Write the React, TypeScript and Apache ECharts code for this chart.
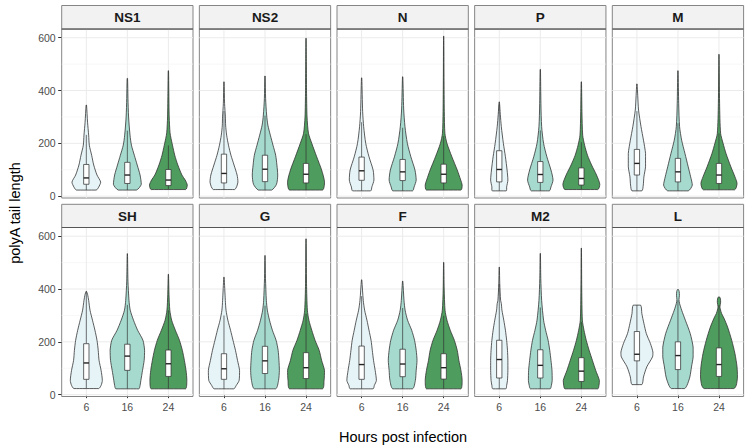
import React, { useEffect, useRef } from "react";
import * as echarts from "echarts";

// ---- data -------------------------------------------------------------
const panels = ["NS1", "NS2", "N", "P", "M", "SH", "G", "F", "M2", "L"];
const hours = ["6", "16", "24"];
const hourFills = ["#e6f4f8", "#a6dace", "#4f9d5e"];
const yTicks = [0, 200, 400, 600];
const yMinorTicks = [100, 300, 500];

// violin profiles: [value, half width in x units], bottom to top
const ns1Violins = [
  [[23, 0.24], [34, 0.3], [53, 0.35], [80, 0.26], [118, 0.18], [155, 0.13], [193, 0.073], [231, 0.057], [280, 0.03], [345, 0.005]],
  [[23, 0.22], [45, 0.34], [80, 0.31], [118, 0.24], [155, 0.17], [193, 0.1], [231, 0.065], [300, 0.03], [370, 0.015], [446, 0.005]],
  [[25, 0.42], [42, 0.46], [61, 0.41], [80, 0.33], [118, 0.23], [155, 0.155], [193, 0.1], [218, 0.065], [240, 0.04], [300, 0.02], [400, 0.01], [475, 0.004]],
];
const ns2Violins = [
  [[25, 0.26], [53, 0.34], [80, 0.32], [118, 0.245], [155, 0.17], [193, 0.11], [231, 0.065], [269, 0.04], [300, 0.035], [350, 0.015], [433, 0.004]],
  [[23, 0.16], [45, 0.28], [80, 0.31], [118, 0.29], [155, 0.26], [193, 0.195], [231, 0.13], [269, 0.07], [307, 0.04], [370, 0.015], [455, 0.004]],
  [[23, 0.4], [54, 0.45], [99, 0.38], [149, 0.26], [200, 0.14], [238, 0.06], [300, 0.025], [400, 0.012], [500, 0.008], [598, 0.003]],
];
const nViolins = [
  [[20, 0.22], [35, 0.25], [61, 0.3], [99, 0.28], [149, 0.18], [200, 0.1], [263, 0.05], [320, 0.025], [448, 0.004]],
  [[20, 0.24], [35, 0.28], [61, 0.33], [99, 0.3], [149, 0.2], [200, 0.115], [263, 0.057], [330, 0.025], [452, 0.004]],
  [[23, 0.42], [42, 0.45], [61, 0.415], [99, 0.33], [149, 0.2], [200, 0.08], [238, 0.03], [320, 0.015], [450, 0.008], [606, 0.003]],
];
const pViolins = [
  [[20, 0.17], [35, 0.18], [61, 0.21], [99, 0.19], [149, 0.15], [200, 0.1], [263, 0.05], [310, 0.025], [357, 0.004]],
  [[20, 0.22], [35, 0.26], [61, 0.31], [99, 0.26], [149, 0.16], [200, 0.08], [263, 0.033], [350, 0.015], [480, 0.004]],
  [[25, 0.4], [45, 0.45], [80, 0.37], [118, 0.25], [155, 0.15], [193, 0.08], [231, 0.033], [320, 0.015], [433, 0.004]],
];
const mViolins = [
  [[20, 0.12], [42, 0.155], [73, 0.17], [111, 0.21], [162, 0.21], [212, 0.16], [263, 0.1], [326, 0.04], [380, 0.02], [425, 0.004]],
  [[20, 0.25], [42, 0.35], [73, 0.31], [111, 0.25], [162, 0.17], [212, 0.09], [263, 0.04], [350, 0.018], [475, 0.004]],
  [[24, 0.38], [48, 0.44], [73, 0.39], [111, 0.29], [162, 0.17], [200, 0.1], [238, 0.04], [350, 0.015], [537, 0.003]],
];
const shViolins = [
  [[23, 0.3], [35, 0.36], [54, 0.39], [92, 0.36], [130, 0.31], [168, 0.29], [206, 0.26], [244, 0.21], [282, 0.15], [320, 0.09], [357, 0.057], [380, 0.03], [391, 0.005]],
  [[22, 0.28], [35, 0.31], [54, 0.33], [92, 0.37], [130, 0.41], [168, 0.42], [206, 0.38], [244, 0.25], [282, 0.15], [320, 0.07], [357, 0.04], [430, 0.015], [534, 0.003]],
  [[22, 0.42], [54, 0.45], [92, 0.43], [130, 0.39], [168, 0.34], [206, 0.27], [244, 0.17], [282, 0.08], [320, 0.035], [380, 0.015], [456, 0.003]],
];
const gViolins = [
  [[22, 0.24], [35, 0.3], [54, 0.37], [92, 0.38], [130, 0.33], [168, 0.28], [206, 0.22], [244, 0.16], [282, 0.095], [320, 0.05], [357, 0.033], [445, 0.004]],
  [[22, 0.26], [54, 0.33], [92, 0.35], [130, 0.34], [168, 0.32], [206, 0.27], [244, 0.18], [282, 0.11], [320, 0.057], [357, 0.033], [440, 0.012], [527, 0.003]],
  [[22, 0.4], [54, 0.44], [92, 0.45], [130, 0.38], [168, 0.32], [206, 0.22], [244, 0.14], [282, 0.07], [320, 0.033], [420, 0.012], [590, 0.003]],
];
const fViolins = [
  [[22, 0.28], [35, 0.31], [54, 0.36], [92, 0.33], [130, 0.29], [168, 0.26], [206, 0.23], [244, 0.18], [282, 0.13], [320, 0.073], [357, 0.04], [435, 0.004]],
  [[22, 0.24], [54, 0.31], [92, 0.33], [130, 0.35], [168, 0.33], [206, 0.29], [244, 0.22], [282, 0.12], [320, 0.06], [357, 0.033], [430, 0.004]],
  [[22, 0.42], [54, 0.45], [92, 0.42], [130, 0.37], [168, 0.33], [206, 0.26], [244, 0.16], [282, 0.08], [320, 0.033], [400, 0.012], [501, 0.003]],
];
const m2Violins = [
  [[22, 0.16], [35, 0.18], [54, 0.2], [92, 0.21], [130, 0.21], [168, 0.2], [206, 0.18], [244, 0.15], [282, 0.11], [320, 0.065], [345, 0.05], [357, 0.033], [420, 0.012], [483, 0.003]],
  [[22, 0.24], [35, 0.27], [54, 0.29], [92, 0.285], [130, 0.26], [168, 0.23], [206, 0.19], [244, 0.13], [282, 0.08], [357, 0.033], [440, 0.012], [535, 0.003]],
  [[22, 0.4], [35, 0.43], [54, 0.44], [92, 0.35], [130, 0.27], [168, 0.19], [206, 0.12], [244, 0.065], [282, 0.025], [400, 0.01], [555, 0.003]],
];
const lViolins = [
  [[38, 0.12], [67, 0.16], [105, 0.24], [143, 0.38], [161, 0.39], [193, 0.33], [231, 0.23], [270, 0.17], [307, 0.12], [339, 0.09]],
  [[23, 0.16], [35, 0.22], [67, 0.29], [105, 0.33], [143, 0.37], [180, 0.37], [231, 0.3], [282, 0.18], [320, 0.09], [345, 0.04], [360, 0.025], [375, 0.035], [390, 0.03], [398, 0.012]],
  [[23, 0.36], [35, 0.42], [67, 0.45], [105, 0.44], [155, 0.39], [206, 0.31], [256, 0.21], [290, 0.12], [307, 0.065], [325, 0.03], [335, 0.025], [350, 0.04], [362, 0.035], [370, 0.015]],
];

// box stats: [lower whisker, q1, median, q3, upper whisker]
const ns1Boxes = [[23, 45, 69, 120, 232], [23, 48, 80, 128, 248], [25, 40, 61, 101, 192]];
const ns2Boxes = [[25, 50, 86, 159, 322], [23, 55, 102, 155, 305], [23, 50, 83, 124, 235]];
const nBoxes = [[20, 60, 96, 148, 280], [20, 59, 92, 139, 259], [23, 50, 83, 121, 227]];
const pBoxes = [[20, 54, 101, 172, 349], [20, 52, 82, 131, 249], [25, 42, 67, 107, 204]];
const mBoxes = [[20, 80, 124, 177, 322], [20, 54, 92, 143, 276], [24, 48, 80, 124, 238]];
const shBoxes = [[23, 58, 120, 193, 391], [22, 92, 146, 191, 340], [22, 69, 117, 169, 319]];
const gBoxes = [[22, 58, 98, 155, 300], [22, 80, 128, 183, 337], [22, 61, 102, 159, 306]];
const fBoxes = [[22, 58, 114, 184, 373], [22, 68, 116, 172, 328], [22, 59, 102, 155, 299]];
const m2Boxes = [[22, 63, 133, 206, 420], [22, 63, 111, 170, 330], [22, 50, 89, 140, 275]];
const lBoxes = [[38, 128, 153, 239, 339], [23, 95, 148, 200, 357], [23, 69, 114, 177, 339]];

const violins = [ns1Violins, ns2Violins, nViolins, pViolins, mViolins, shViolins, gViolins, fViolins, m2Violins, lViolins];
const boxes = [ns1Boxes, ns2Boxes, nBoxes, pBoxes, mBoxes, shBoxes, gBoxes, fBoxes, m2Boxes, lBoxes];

// ---- chart ------------------------------------------------------------
export default function App() {
  const ref = useRef<HTMLDivElement>(null);

  useEffect(() => {
    if (!ref.current) return;
    const chart = echarts.init(ref.current, null, { renderer: "svg" });
    const font = "'Liberation Sans', Arial, Helvetica, sans-serif";
    const colLeft = (c: number) => 61.7 + c * 137.65;
    const panelW = 131.3;
    const rowTop = [29, 227.5];
    const stripTop = [5.5, 204.3];
    const panelH = 169;
    const boxHalf = 0.065;
    const outline = "#333333";

    const grids: any[] = [];
    const xAxes: any[] = [];
    const yAxes: any[] = [];
    const series: any[] = [];
    const graphics: any[] = [];

    panels.forEach((name, p) => {
      const r = Math.floor(p / 5);
      const c = p % 5;
      grids.push({
        left: colLeft(c),
        top: rowTop[r],
        width: panelW,
        height: panelH,
        show: true,
        backgroundColor: "#ffffff",
        borderColor: "#858585",
        borderWidth: 1,
        containLabel: false,
        outerBoundsMode: "none",
      });
      xAxes.push({
        type: "value",
        gridIndex: p,
        min: 0.4,
        max: 3.6,
        axisLine: { show: false },
        splitLine: { show: false },
        axisTick: {
          show: r === 1,
          customValues: [1, 2, 3],
          length: 3.5,
          lineStyle: { color: "#333333", width: 1 },
        },
        axisLabel: {
          show: r === 1,
          customValues: [1, 2, 3],
          formatter: (v: number) => hours[Math.round(v) - 1] ?? "",
          margin: 5,
          fontSize: 10.5,
          color: "#4d4d4d",
          fontFamily: font,
        },
      });
      yAxes.push({
        type: "value",
        gridIndex: p,
        min: -7,
        max: 633,
        axisLine: { show: false },
        splitLine: { show: false },
        axisTick: {
          show: c === 0,
          customValues: yTicks,
          length: 3.5,
          lineStyle: { color: "#333333", width: 1 },
        },
        axisLabel: {
          show: c === 0,
          customValues: yTicks,
          margin: 6,
          fontSize: 10.5,
          color: "#4d4d4d",
          fontFamily: font,
        },
      });

      // grid lines
      const gridData = [
        ...yMinorTicks.map((v) => [1, v, 1]),
        ...yTicks.map((v) => [1, v, 0]),
        ...[1, 2, 3].map((v) => [v, 100, 2]),
      ];
      series.push({
        type: "custom",
        xAxisIndex: p,
        yAxisIndex: p,
        silent: true,
        data: gridData,
        renderItem: (params: any, api: any) => {
          const cs = params.coordSys;
          const kind = api.value(2);
          if (kind === 2) {
            const pt = api.coord([api.value(0), 100]);
            return {
              type: "line",
              shape: { x1: pt[0], y1: cs.y, x2: pt[0], y2: cs.y + cs.height },
              style: { stroke: "#ebebeb", lineWidth: 1 },
            };
          }
          const pt = api.coord([1, api.value(1)]);
          return {
            type: "line",
            shape: { x1: cs.x, y1: pt[1], x2: cs.x + cs.width, y2: pt[1] },
            style: kind === 0 ? { stroke: "#ebebeb", lineWidth: 1 } : { stroke: "#f4f4f4", lineWidth: 0.7 },
          };
        },
      });

      // violins + boxes
      series.push({
        type: "custom",
        xAxisIndex: p,
        yAxisIndex: p,
        silent: true,
        encode: { x: 0, y: 3 },
        data: hours.map((h, i) => [i + 1, ...boxes[p][i]]),
        renderItem: (params: any, api: any) => {
          const i = params.dataIndex;
          const x = api.value(0);
          const prof = violins[p][i];
          const right = prof.map(([v, w]) => api.coord([x + w, v]));
          const left = prof
            .slice()
            .reverse()
            .map(([v, w]) => api.coord([x - w, v]));
          const pts = [...right, ...left];
          let minX = Infinity, minY = Infinity, maxX = -Infinity, maxY = -Infinity;
          pts.forEach(([px, py]) => {
            minX = Math.min(minX, px);
            maxX = Math.max(maxX, px);
            minY = Math.min(minY, py);
            maxY = Math.max(maxY, py);
          });
          const lo = api.coord([x, api.value(1)]);
          const q1 = api.coord([x - boxHalf, api.value(2)]);
          const med = api.coord([x - boxHalf, api.value(3)]);
          const q3 = api.coord([x + boxHalf, api.value(4)]);
          const hi = api.coord([x, api.value(5)]);
          const medR = api.coord([x + boxHalf, api.value(3)]);
          return {
            type: "group",
            children: [
              {
                type: "polygon",
                shape: {
                  points: pts,
                  smooth: 0.25,
                  smoothConstraint: [
                    [minX, minY],
                    [maxX, maxY],
                  ],
                },
                style: { fill: hourFills[i], stroke: outline, lineWidth: 0.8 },
              },
              {
                type: "line",
                shape: { x1: lo[0], y1: lo[1], x2: lo[0], y2: q1[1] },
                style: { stroke: outline, lineWidth: 0.7 },
              },
              {
                type: "line",
                shape: { x1: hi[0], y1: q3[1], x2: hi[0], y2: hi[1] },
                style: { stroke: outline, lineWidth: 0.7 },
              },
              {
                type: "rect",
                shape: { x: q1[0], y: q3[1], width: q3[0] - q1[0], height: q1[1] - q3[1] },
                style: { fill: "#ffffff", stroke: outline, lineWidth: 0.75 },
              },
              {
                type: "line",
                shape: { x1: med[0], y1: med[1], x2: medR[0], y2: med[1] },
                style: { stroke: "#222222", lineWidth: 1.4 },
              },
            ],
          };
        },
      });

      // strip
      const sx = colLeft(c);
      const sy = stripTop[r];
      const sh = rowTop[r] - sy;
      graphics.push({
        type: "rect",
        silent: true,
        shape: { x: sx, y: sy, width: panelW, height: sh },
        style: { fill: "#f2f2f2", stroke: "#858585", lineWidth: 1 },
        z: 10,
      });
      graphics.push({
        type: "line",
        silent: true,
        shape: { x1: sx, y1: rowTop[r], x2: sx + panelW, y2: rowTop[r] },
        style: { stroke: "#555555", lineWidth: 1.2 },
        z: 11,
      });
      graphics.push({
        type: "text",
        silent: true,
        x: sx + panelW / 2,
        y: sy + sh / 2 + 0.5,
        style: {
          text: name,
          fontSize: 13.5,
          fontWeight: "bold",
          fontFamily: font,
          fill: "#1a1a1a",
          textAlign: "center",
          textVerticalAlign: "middle",
        },
        z: 12,
      });
    });

    graphics.push({
      type: "text",
      silent: true,
      x: 15,
      y: 213,
      rotation: Math.PI / 2,
      style: {
        text: "polyA tail length",
        fontSize: 14.5,
        fontFamily: font,
        fill: "#000000",
        textAlign: "center",
        textVerticalAlign: "middle",
      },
    });
    graphics.push({
      type: "text",
      silent: true,
      x: 403,
      y: 437,
      style: {
        text: "Hours post infection",
        fontSize: 14.5,
        fontFamily: font,
        fill: "#000000",
        textAlign: "center",
        textVerticalAlign: "middle",
      },
    });

    chart.setOption({
      animation: false,
      backgroundColor: "#ffffff",
      grid: grids,
      xAxis: xAxes,
      yAxis: yAxes,
      series,
      graphic: { elements: graphics },
    });

    return () => chart.dispose();
  }, []);

  return (
    <div
      ref={ref}
      style={{ position: "fixed", left: 0, top: 0, width: 750, height: 448, background: "#fff" }}
    />
  );
}
